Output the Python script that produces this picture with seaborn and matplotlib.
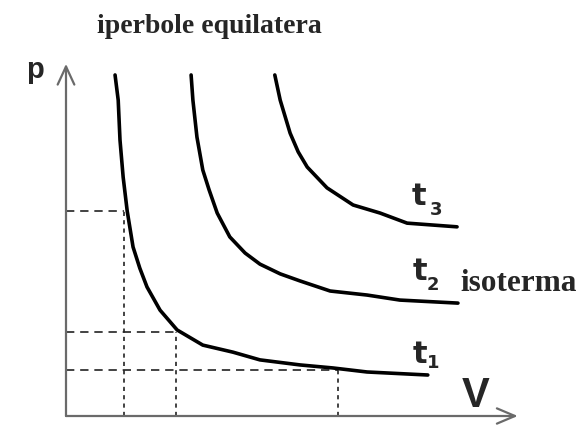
import matplotlib
matplotlib.use("Agg")
import matplotlib.pyplot as plt
import seaborn as sns
import pandas as pd
from matplotlib.patches import ArrowStyle

# ---- data (V, p in arbitrary units) ----
t1_V = [1.09, 1.16, 1.20, 1.27, 1.36, 1.49, 1.64, 1.80, 2.09, 2.47, 3.04, 3.71, 4.31, 5.20, 5.93, 6.69, 8.04]
t1_p = [10.15, 9.40, 8.21, 7.11, 6.10, 5.03, 4.40, 3.84, 3.15, 2.56, 2.11, 1.90, 1.67, 1.52, 1.43, 1.31, 1.22]

t2_V = [2.78, 2.82, 2.91, 3.04, 3.18, 3.36, 3.64, 3.98, 4.31, 4.76, 5.20, 5.87, 6.69, 7.42, 8.71]
t2_p = [10.15, 9.40, 8.30, 7.32, 6.73, 6.04, 5.33, 4.85, 4.52, 4.23, 4.02, 3.72, 3.60, 3.45, 3.36]

t3_V = [4.64, 4.76, 4.98, 5.16, 5.36, 5.80, 6.38, 6.98, 7.58, 8.69]
t3_p = [10.15, 9.40, 8.42, 7.86, 7.41, 6.79, 6.28, 6.04, 5.74, 5.63]

# reference points with dashed guide lines
ref_V = [1.29, 2.44, 6.04]
ref_p = [6.10, 2.50, 1.37]

curve_names = ["t1", "t2", "t3"]
curve_subs = ["1", "2", "3"]

sns.set_style("white")

df = pd.concat([
    pd.DataFrame({"V": t1_V, "p": t1_p, "curve": curve_names[0]}),
    pd.DataFrame({"V": t2_V, "p": t2_p, "curve": curve_names[1]}),
    pd.DataFrame({"V": t3_V, "p": t3_p, "curve": curve_names[2]}),
])

fig = plt.figure(figsize=(5.85, 4.26), dpi=100)
ax = fig.add_axes([0, 0, 1, 1])

# dashed guides
for v, p in zip(ref_V, ref_p):
    ax.plot([0, v], [p, p], color="#222222", lw=1.2, ls=(0, (5, 3.5)), zorder=1)
    ax.plot([v, v], [0, p], color="#222222", lw=1.2, ls=(0, (2.5, 2.5)), zorder=1)

# isotherms
sns.lineplot(data=df, x="V", y="p", hue="curve",
             estimator=None, sort=False, palette=["black"] * 3, legend=False,
             lw=2.6, ax=ax, zorder=3)
ax.set_xlabel("")
ax.set_ylabel("")
ax.set_xlim(-1.4667, 11.5333)
ax.set_ylim(-0.2976, 12.381)
ax.axis("off")

# axes with open arrow heads
axis_col = "#6a6a6a"
ax.annotate("", xy=(10.04, 0), xytext=(0, 0),
            arrowprops=dict(arrowstyle=ArrowStyle("->", head_length=13, head_width=5.5),
                            mutation_scale=1, color=axis_col, lw=1.6,
                            shrinkA=0, shrinkB=0), zorder=2)
ax.annotate("", xy=(0, 10.48), xytext=(0, 0),
            arrowprops=dict(arrowstyle=ArrowStyle("->", head_length=13, head_width=6),
                            mutation_scale=1, color=axis_col, lw=1.6,
                            shrinkA=0, shrinkB=0), zorder=2)

# labels
ax.text(-0.69, 10.05, "p", fontsize=21, fontweight="bold", family="Liberation Sans",
        ha="center", va="baseline")
ax.text(9.11, 0.27, "V", fontsize=30, fontweight="bold", family="Liberation Sans",
        ha="center", va="baseline")
ax.text(0.69, 11.40, "iperbole equilatera", fontsize=20, fontweight="bold",
        family="Liberation Serif", ha="left", va="baseline")
ax.text(8.77, 3.72, "isoterma", fontsize=22.5, fontweight="bold",
        family="Liberation Serif", ha="left", va="baseline")

t_pos = [(7.71, 1.58, 8.02, 1.43), (7.71, 4.05, 8.02, 3.75), (7.69, 6.28, 8.08, 5.98)]
for (tx, ty, sx, sy), sub in zip(t_pos, curve_subs):
    ax.text(tx, ty, "t", fontsize=22, fontweight="bold", family="DejaVu Sans",
            ha="left", va="baseline")
    ax.text(sx, sy, sub, fontsize=13, fontweight="bold", family="DejaVu Sans",
            ha="left", va="baseline")

fig.savefig("out.png", dpi=100, facecolor="white")
